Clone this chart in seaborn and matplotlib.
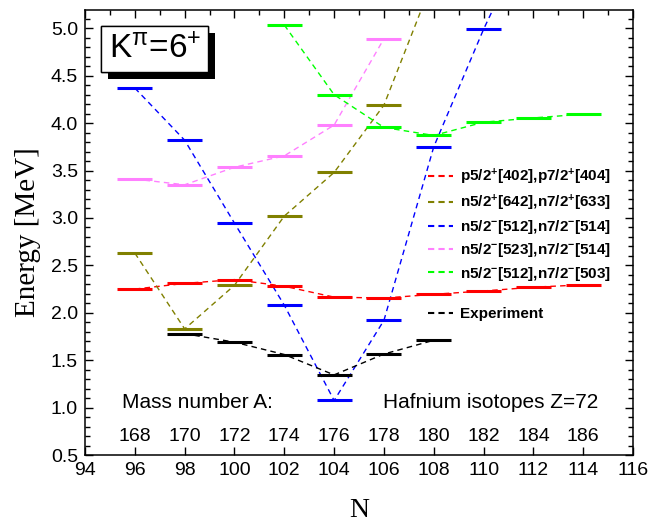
import numpy as np
import pandas as pd
import matplotlib
matplotlib.use('Agg')
import matplotlib.pyplot as plt
import matplotlib.patheffects as pe
from matplotlib.lines import Line2D
from matplotlib.ticker import MultipleLocator
import seaborn as sns

# Hf isotopes, K^pi = 6+ two-quasiparticle energies (MeV)
N_red = [96, 98, 100, 102, 104, 106, 108, 110, 112, 114]
E_red = [2.25, 2.31, 2.35, 2.28, 2.165, 2.155, 2.195, 2.23, 2.27, 2.295]

N_olive = [96, 98, 100, 102, 104, 106, 108]
E_olive = [2.63, 1.83, 2.29, 3.02, 3.48, 4.19, 5.53]

N_blue = [96, 98, 100, 102, 104, 106, 108, 110, 112]
E_blue = [4.37, 3.82, 2.945, 2.08, 1.075, 1.92, 3.75, 4.99, 6.1]

N_pink = [96, 98, 100, 102, 104, 106]
E_pink = [3.41, 3.35, 3.535, 3.655, 3.98, 4.89]

N_green = [102, 104, 106, 108, 110, 112, 114]
E_green = [5.035, 4.30, 3.955, 3.87, 4.01, 4.055, 4.095]

N_exp = [98, 100, 102, 104, 106, 108]
E_exp = [1.78, 1.69, 1.56, 1.345, 1.565, 1.71]

labels = ['p5/2$^{+}$[402],p7/2$^{+}$[404]',
          'n5/2$^{+}$[642],n7/2$^{+}$[633]',
          'n5/2$^{-}$[512],n7/2$^{-}$[514]',
          'n5/2$^{-}$[523],n7/2$^{-}$[514]',
          'n5/2$^{-}$[512],n7/2$^{-}$[503]',
          'Experiment']
colors = ['#FF0000', '#808000', '#0000FF', '#FF80FF', '#00FF00', '#000000']
series = [(N_red, E_red), (N_olive, E_olive), (N_blue, E_blue),
          (N_pink, E_pink), (N_green, E_green), (N_exp, E_exp)]

mass_N = [96, 98, 100, 102, 104, 106, 108, 110, 112, 114]
mass_A = [n + 72 for n in mass_N]

sns.set_style('ticks')
plt.rcParams['font.family'] = ['Liberation Sans', 'DejaVu Sans']
plt.rcParams['mathtext.default'] = 'regular'
for k in ['text.color', 'axes.labelcolor', 'xtick.color', 'ytick.color', 'axes.edgecolor']:
    plt.rcParams[k] = 'black'

fig = plt.figure(figsize=(6.52, 5.25), dpi=100)
ax = fig.add_axes([0.1304, 0.1333, 0.8405, 0.8476])

for (n, e), c in zip(series, colors):
    sns.lineplot(x=n, y=e, color=c, ax=ax, sort=False, lw=1.0,
                 linestyle=(0, (4, 3)), zorder=2)
    n = np.array(n)
    ax.hlines(e, n - 0.7, n + 0.7, colors=c, lw=2.2, zorder=3)

ax.set_xlim(94, 116)
ax.set_ylim(0.5, 5.193)
ax.xaxis.set_major_locator(MultipleLocator(2))
ax.xaxis.set_minor_locator(MultipleLocator(1))
ax.yaxis.set_major_locator(MultipleLocator(0.5))
ax.yaxis.set_minor_locator(MultipleLocator(0.1))
ax.yaxis.set_major_formatter(matplotlib.ticker.FormatStrFormatter('%.1f'))
ax.tick_params(which='both', direction='in', top=True, right=True, width=1.0)
ax.tick_params(which='major', length=6, labelsize=14, pad=5)
ax.tick_params(which='minor', length=3.5)
ax.tick_params(axis='x', which='minor', bottom=False)
for s in ax.spines.values():
    s.set_linewidth(1.1)

ax.set_xlabel('N', family='Liberation Serif', fontsize=20, labelpad=14)
ax.set_ylabel('Energy [MeV]', family='Liberation Serif', fontsize=21, labelpad=7)

# mass numbers along bottom
for n, a in zip(mass_N, mass_A):
    ax.text(n, 0.65, str(a), ha='center', va='baseline', fontsize=14)
ax.text(95.49, 1.0, 'Mass number A:', ha='left', va='baseline', fontsize=15)
ax.text(105.96, 1.0, 'Hafnium isotopes Z=72', ha='left', va='baseline', fontsize=15)

t = ax.text(96.8, 4.78, 'K$^{π}$=6$^{+}$', ha='center', va='center', fontsize=24,
            bbox=dict(boxstyle='square,pad=0.22', fc='white', ec='black', lw=1.0),
            zorder=5)
t.get_bbox_patch().set_path_effects([
    pe.withSimplePatchShadow(offset=(5, -5), shadow_rgbFace='black', alpha=1),
    pe.Normal()])

handles = [Line2D([], [], color=c, lw=1.5, linestyle=(0, (3, 2))) for c in colors]
blank = Line2D([], [], color='none')
leg_handles = handles[:5] + [blank] + handles[5:]
leg_labels = labels[:5] + [' '] + labels[5:]
ax.legend(leg_handles, leg_labels, loc='upper left', bbox_to_anchor=(0.625, 0.648),
          frameon=False, prop={'weight': 'bold', 'size': 11}, handlelength=1.65,
          handletextpad=0.45, labelspacing=0.35, borderpad=0, borderaxespad=0)

fig.savefig('out.png', dpi=100)
